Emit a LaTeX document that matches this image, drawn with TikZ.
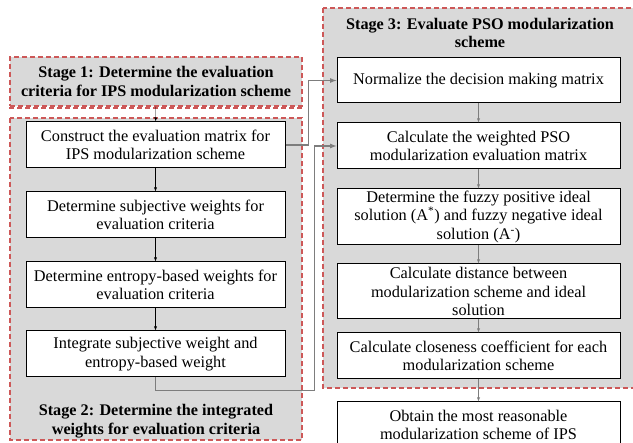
\documentclass[tikz,border=0pt]{standalone}
\usepackage{fontspec}
\setmainfont{Liberation Serif}
\usetikzlibrary{arrows}
\usetikzlibrary{calc}
\usetikzlibrary{positioning}

\definecolor{stagegray}{RGB}{217,217,217}
\definecolor{stagered}{RGB}{205,88,88}
\definecolor{linkgray}{RGB}{125,125,125}

\begin{document}
\begin{tikzpicture}[x=1pt, y=1pt, >=latex,
    proc/.style={draw, line width=1pt, fill=white, minimum height=46pt, align=center, inner sep=0.5pt, font=\fontsize{16.3}{18.3}\selectfont},
    stage/.style={draw=stagered, fill=stagegray, dash pattern=on 5pt off 3pt, line width=1.1pt},
    stagetext/.style={align=center, font=\fontsize{16.2}{18.5}\bfseries\selectfont},
    link/.style={->, draw=linkgray, line width=1.2pt}]
        \path[clip, use as bounding box] (0,0) rectangle (633,-443);

        % stage frames
        \draw[stage] (10,-118) rectangle (302,-440);
        \draw[stage] (323,-8) rectangle (645,-388);
        \node[stage, stagetext, minimum width=292pt, minimum height=49pt] (st1) at (156,-81.5) {Stage 1: Determine the evaluation\\criteria for IPS modularization scheme};
        \draw[stagered, line width=1.1pt, dash pattern=on 5pt off 3pt] ([yshift=-1.5pt]st1.south west) -- ([yshift=-1.5pt]st1.south east);
        \node[stagetext] (st2) at (156,-421) {Stage 2: Determine the integrated\\weights for evaluation criteria};
        \node[stagetext] (st3) at (480,-33) {Stage 3: Evaluate PSO modularization\\scheme};

        \node[proc, minimum width=259pt] (cem) at (155.5,-145) {Construct the evaluation matrix for\\IPS modularization scheme};
        \node[proc, minimum width=259pt, below=23pt of cem] (sw) {Determine subjective weights for\\evaluation criteria};
        \node[proc, minimum width=259pt, below=23pt of sw] (ew) {Determine entropy-based weights for\\evaluation criteria};
        \node[proc, minimum width=259pt, below=22pt of ew] (iw) {Integrate subjective weight and\\entropy-based weight};

        \node[proc, minimum width=283pt, minimum height=45pt] (nm) at (478.5,-80.5) {Normalize the decision making matrix};
        \node[proc, minimum width=283pt, below=19pt of nm] (wm) {Calculate the weighted PSO\\modularization evaluation matrix};
        \node[proc, minimum width=283pt, minimum height=56pt, below=19pt of wm] (pis) {Determine the fuzzy positive ideal\\solution (A\textsuperscript{*}) and fuzzy negative ideal\\solution (A\textsuperscript{-})};
        \node[proc, minimum width=283pt, minimum height=55pt, below=18pt of pis] (dis) {Calculate distance between\\modularization scheme and ideal\\solution};
        \node[proc, minimum width=283pt, below=13pt of dis] (cc) {Calculate closeness coefficient for each\\modularization scheme};
        \node[proc, minimum width=283pt, below=22pt of cc] (res) {Obtain the most reasonable\\modularization scheme of IPS};

        \draw[->] (st1) -- (cem);
        \draw[->] (cem) -- (sw);
        \draw[->] (sw) -- (ew);
        \draw[->] (ew) -- (iw);

        \draw[->, linkgray] (nm) -- (wm);
        \draw[->, linkgray] (wm) -- (pis);
        \draw[->, linkgray] (pis) -- (dis);
        \draw[->, linkgray] (dis) -- (cc);
        \draw[->, linkgray] (cc) -- (res);

        \draw[link] (cem.east) -- ++(23,0) |- (nm.west);
        \draw[link] (iw.south) -- ++(0,-13) -| ([xshift=-22pt]wm.west) -- (wm.west);
    \end{tikzpicture}
\end{document}
